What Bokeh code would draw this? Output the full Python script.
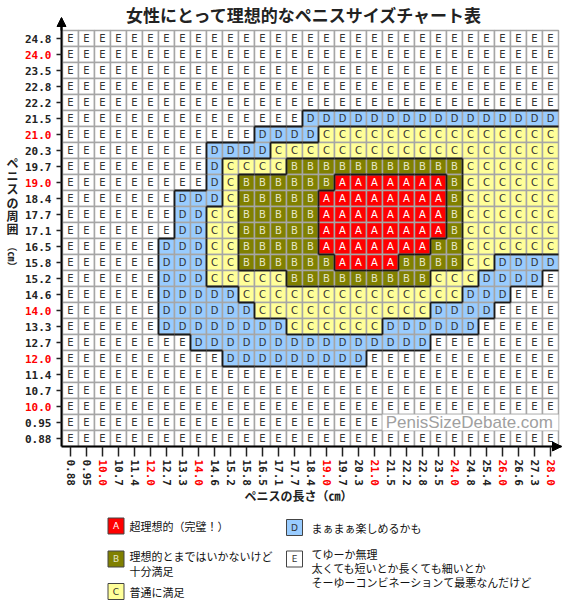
import math
from bokeh.plotting import figure
from bokeh.models import (ColumnDataSource, FixedTicker, LabelSet, Range1d, Arrow, NormalHead,
                          LinearAxis)
from bokeh.core.properties import value
from bokeh.embed import file_html
from bokeh.resources import INLINE

# ---------------- data ----------------
title_text = "女性にとって理想的なペニスサイズチャート表"
x_title = "ペニスの長さ（㎝）"
y_title = "ペニスの周囲"
y_unit = "（㎝）"

# length categories (columns, left to right)
x_labels = ["0.88", "0.95", "10.0", "10.7", "11.4", "12.0", "12.7", "13.3", "14.0", "14.6",
            "15.2", "15.8", "16.5", "17.1", "17.7", "18.4", "19.0", "19.7", "20.3", "21.0",
            "21.5", "22.2", "22.8", "23.5", "24.0", "24.8", "25.4", "26.0", "26.6", "27.3", "28.0"]
# girth categories (rows, top to bottom)
y_labels = ["24.8", "24.0", "23.5", "22.8", "22.2", "21.5", "21.0", "20.3", "19.7", "19.0",
            "18.4", "17.7", "17.1", "16.5", "15.8", "15.2", "14.6", "14.0", "13.3", "12.7",
            "12.0", "11.4", "10.7", "10.0", "0.95", "0.88"]
red_x = ["10.0", "12.0", "14.0", "19.0", "21.0", "24.0", "26.0", "28.0"]
red_y = ["10.0", "12.0", "14.0", "19.0", "21.0", "24.0"]

# grade of every cell, one row per girth (top to bottom), runs separated by spaces
grade_rows = [
    "EEEEEEEEEEEEEEEEEEEEEEEEEEEEEEE",
    "EEEEEEEEEEEEEEEEEEEEEEEEEEEEEEE",
    "EEEEEEEEEEEEEEEEEEEEEEEEEEEEEEE",
    "EEEEEEEEEEEEEEEEEEEEEEEEEEEEEEE",
    "EEEEEEEEEEEEEEEEEEEEEEEEEEEEEEE",
    "EEEEEEEEEEEEEEE DDDDDDDDDDDDDDDD",
    "EEEEEEEEEEEE DDDD CCCCCCCCCCCCCCC",
    "EEEEEEEEE DDDD CCCCCCCCCCCCCCCCCC",
    "EEEEEEEEE D CCCC BBBBBBBBBBB CCCCCC",
    "EEEEEEEEE D C BBBBBB AAAAAAA B CCCCCC",
    "EEEEEEE DDD C BBBBB AAAAAAAA B CCCCCC",
    "EEEEEEE DD CC BBBBB AAAAAAAA B CCCCCC",
    "EEEEEEE DD CC BBBBB AAAAAAAA B CCCCCC",
    "EEEEEE DDD CC BBBBB AAAAAAA BB CCCCCC",
    "EEEEEE DDD CC BBBBBB AAAA BBBB CC DDDD",
    "EEEEEE DDD CCCCC BBBBBBBBB CCC DDDD E",
    "EEEEEE DDDDD CCCCCCCCCCCCCC DDD EEE",
    "EEEEEE DDDDDD CCCCCCCCCCC DDDD EEEE",
    "EEEEEE DDDDDDDD CCCCCC DDDDDD EEEEE",
    "EEEEEEEE DDDDDDDDDDDDDDD EEEEEEEE",
    "EEEEEEEEEE DDDDDDDDD EEEEEEEEEEEE",
    "EEEEEEEEEEEEEEEEEEEEEEEEEEEEEEE",
    "EEEEEEEEEEEEEEEEEEEEEEEEEEEEEEE",
    "EEEEEEEEEEEEEEEEEEEEEEEEEEEEEEE",
    "EEEEEEEEEEEEEEEEEEEEEEEEEEEEEEE",
    "EEEEEEEEEEEEEEEEEEEEEEEEEEEEEEE",
]

legend_grades = ["A", "B", "C", "D", "E"]
legend_texts = {
    "A": ["超理想的（完璧！）"],
    "B": ["理想的とまではいかないけど", "十分満足"],
    "C": ["普通に満足"],
    "D": ["まぁまぁ楽しめるかも"],
    "E": ["てゆーか無理", "太くても短いとか長くても細いとか", "そーゆーコンビネーションて最悪なんだけど"],
}
watermark = "PenisSizeDebate.com"

# ---------------- styles ----------------
fill = {"A": "#ff0000", "B": "#808000", "C": "#ffff99", "D": "#99ccff", "E": "#ffffff"}
ink = {"A": "#ffffff", "B": "#e6e6c8", "C": "#333333", "D": "#333333", "E": "#333333"}
JP = "Noto Sans CJK JP"
MONO = "DejaVu Sans Mono"

ncol = len(x_labels)
nrow = len(y_labels)
grid = [r.replace(" ", "") for r in grade_rows]
for r in grid:
    assert len(r) == ncol, (r, len(r))
assert len(grid) == nrow

# layout helpers: page pixel -> cell units
W, H = 562, 600
OFF = 0            # page offset of the canvas
PX = 16.0          # pixels per cell
GX0, GY0 = 62, 446  # grid bottom-left on the page
def dx(px):
    return (px - GX0) / PX
def dy(py):
    return (GY0 - py) / PX

p = figure(width=W, height=H,
           x_range=Range1d(dx(OFF), dx(OFF + W)), y_range=Range1d(dy(OFF + H), dy(OFF)),
           x_axis_location=None, y_axis_location=None,
           output_backend="svg", toolbar_location=None,
           min_border_left=0, min_border_right=0, min_border_top=0, min_border_bottom=0)
p.xgrid.visible = False
p.ygrid.visible = False
p.outline_line_color = None
p.background_fill_color = "white"

# ---------------- cells ----------------
cx, cy, cg, cf, ci = [], [], [], [], []
for ri, row in enumerate(grid):
    j = nrow - 1 - ri
    for c, g in enumerate(row):
        cx.append(c + 0.5); cy.append(j + 0.5); cg.append(g)
        cf.append(fill[g]); ci.append(ink[g])
cells = ColumnDataSource(dict(x=cx, y=cy, g=cg, f=cf, i=ci))
p.rect(x="x", y="y", width=1, height=1, source=cells, fill_color="f",
       line_color="#a6a6a6", line_width=1.5)
p.text(x="x", y="y", text="g", source=cells, text_color="i",
       text_align="center", text_baseline="middle",
       text_font=value("DejaVu Sans"), text_font_size="10px")

# region borders between different grades
x0s, y0s, x1s, y1s = [], [], [], []
for ri, row in enumerate(grid):
    j = nrow - 1 - ri
    for c, g in enumerate(row):
        if c + 1 < ncol and row[c + 1] != g:
            x0s.append(c + 1); x1s.append(c + 1); y0s.append(j); y1s.append(j + 1)
        if ri > 0 and grid[ri - 1][c] != g:
            x0s.append(c); x1s.append(c + 1); y0s.append(j + 1); y1s.append(j + 1)
p.segment(x0=x0s, y0=y0s, x1=x1s, y1=y1s, line_color="#1a1a1a", line_width=1.8)

# watermark over the 0.95 row, right part
wm_row = nrow - 1 - y_labels.index("0.95")
wm_col = x_labels.index("21.5")
p.quad(left=[wm_col], right=[ncol], bottom=[wm_row], top=[wm_row + 1],
       fill_color="white", line_color=None)
p.text(x=[wm_col + 0.2], y=[wm_row + 0.5], text=[watermark], text_color="#a0a0a0",
       text_align="left", text_baseline="middle",
       text_font=value("Liberation Sans"), text_font_size="17px")

# ---------------- axes (drawn at the grid edges) ----------------
xaxis = LinearAxis(fixed_location=0, bounds=(dx(61), dx(561)),
                   ticker=FixedTicker(ticks=[c + 0.5 for c in range(ncol)]),
                   major_label_overrides={c + 0.5: "" for c in range(ncol)})
yaxis = LinearAxis(fixed_location=dx(61), bounds=(0, dy(18)),
                   ticker=FixedTicker(ticks=[j + 0.5 for j in range(nrow)]),
                   major_label_overrides={j + 0.5: "" for j in range(nrow)})
for ax, out in ((xaxis, 10), (yaxis, 5)):
    ax.axis_line_color = "#000000"
    ax.axis_line_width = 2
    ax.major_tick_out = out
    ax.major_tick_in = 0
    ax.major_tick_line_color = "#222222"
    ax.major_tick_line_width = 1.5
    ax.minor_tick_line_color = None
p.add_layout(xaxis, "below")
p.add_layout(yaxis, "left")

xs = ColumnDataSource(dict(x=[c + 0.5 for c in range(ncol)], y=[dy(459)] * ncol, t=x_labels,
                           col=["#ff0000" if t in red_x else "#222222" for t in x_labels]))
p.add_layout(LabelSet(x="x", y="y", text="t", source=xs, angle=-math.pi / 2,
                      text_align="left", text_baseline="middle", text_color="col",
                      text_font=value(MONO), text_font_size="11px", text_font_style="bold"))
ys = ColumnDataSource(dict(x=[dx(51)] * nrow, y=[nrow - 1 - k + 0.5 for k in range(nrow)], t=y_labels,
                           col=["#ff0000" if t in red_y else "#222222" for t in y_labels]))
p.add_layout(LabelSet(x="x", y="y", text="t", source=ys,
                      text_align="right", text_baseline="middle", text_color="col",
                      text_font=value(MONO), text_font_size="11px", text_font_style="bold"))

# arrow heads
p.add_layout(Arrow(end=NormalHead(size=9, fill_color="black", line_color="black"),
                   x_start=ncol, y_start=0, x_end=dx(561), y_end=0, line_width=2))
p.add_layout(Arrow(end=NormalHead(size=9, fill_color="black", line_color="black"),
                   x_start=dx(61), y_start=nrow, x_end=dx(61), y_end=dy(17), line_width=2))

# ---------------- titles ----------------
p.text(x=[dx(304)], y=[dy(14)], text=[title_text], text_align="center",
       text_baseline="middle", text_font=value(JP), text_font_size="17px",
       text_font_style="bold", text_color="#222222")
p.text(x=[dx(298)], y=[dy(495)], text=[x_title], text_align="center",
       text_baseline="middle", text_font=value(JP), text_font_size="12px",
       text_font_style="bold", text_color="#222222")
# vertical (top-to-bottom) axis title, one character per line
p.text(x=[dx(12)] * len(y_title), y=[dy(162 + 13.2 * k) for k in range(len(y_title))],
       text=list(y_title), text_align="center", text_baseline="middle",
       text_font=value(JP), text_font_size="12px", text_font_style="bold", text_color="#222222")
p.text(x=[dx(12)], y=[dy(256)], text=[y_unit], angle=-math.pi / 2, text_align="center",
       text_baseline="middle", text_font=value(JP), text_font_size="10px",
       text_font_style="bold", text_color="#222222")

# ---------------- legend ----------------
box_pos = {"A": (115.5, 525.5), "B": (115.5, 558.5), "C": (115.5, 591),
           "D": (294, 527), "E": (294, 558.5)}
text_pos = {"A": (129, [525.5]), "B": (129, [555, 570]), "C": (129, [591]),
            "D": (311, [527]), "E": (311, [553, 567, 581])}
bx = [dx(box_pos[g][0]) for g in legend_grades]
by = [dy(box_pos[g][1]) for g in legend_grades]
p.rect(x=bx, y=by, width=1, height=1, fill_color=[fill[g] for g in legend_grades],
       line_color="#444444", line_width=1)
p.text(x=bx, y=by, text=legend_grades, text_color=[ink[g] for g in legend_grades],
       text_align="center", text_baseline="middle",
       text_font=value("DejaVu Sans"), text_font_size="9px")
lx, ly, lt = [], [], []
for g in legend_grades:
    tx, tys = text_pos[g]
    for t, yy in zip(legend_texts[g], tys):
        lx.append(dx(tx)); ly.append(dy(yy)); lt.append(t)
p.text(x=lx, y=ly, text=lt, text_color="#111111", text_align="left", text_baseline="middle",
       text_font=value(JP), text_font_size="11px")

open("out.html", "w").write(file_html(p, INLINE))
